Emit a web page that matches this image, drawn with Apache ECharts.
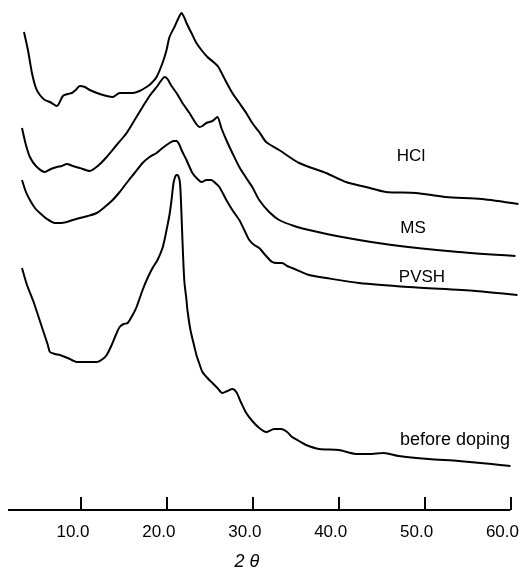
<!DOCTYPE html>
<html>
<head>
<meta charset="utf-8">
<script src="https://cdn.jsdelivr.net/npm/echarts@6/dist/echarts.min.js"></script>
<style>html,body{margin:0;padding:0;background:#fff}#c{width:522px;height:581px}</style>
</head>
<body>
<div id="c"></div>
<script>
// 2θ (degrees) and stacked intensities (arbitrary units, offset traces as drawn)
const hclX = [3.36,3.82,4.29,4.75,5.21,5.79,6.38,7.19,7.88,8.46,8.93,9.39,9.86,10.44,11.02,12.18,12.99,13.69,14.50,15.31,16.01,16.82,17.63,18.22,18.80,19.49,19.96,20.30,20.88,21.35,21.70,22.05,22.28,22.86,23.44,24.02,24.72,25.41,25.99,26.79,27.62,28.43,29.24,29.94,30.75,31.56,33.07,35.39,38.53,40.85,43.17,45.49,48.98,52.46,56.64,60.93];
const hclY = [478,460,437,422,415,410,408,404,414,416,417,420,424,423,420,416,414,413,417,417,417,419,423,427,433,447,460,473,483,492,497,492,487,477,467,460,453,448,443,430,417,407,397,387,378,368,360,347,337,328,323,318,317,313,311,306];

const msX = [3.13,3.59,4.05,4.75,5.79,6.49,7.19,7.77,8.35,9.05,9.86,11.02,11.95,12.99,14.15,15.31,16.24,17.17,17.98,18.80,19.38,19.72,20.07,20.54,21.12,21.81,22.63,23.79,24.14,24.60,25.30,25.88,26.34,26.92,27.62,28.43,29.24,29.94,30.75,31.91,33.07,34.82,36.55,40.39,46.19,53.97,60.58];
const msY = [382,365,353,344,338,341,343,344,346,344,342,339,344,353,365,377,390,403,414,423,430,433,431,424,417,407,397,383,384,387,389,393,382,370,357,343,332,323,310,298,290,284,280,273,265,258,254];

const pvshX = [3.13,3.59,4.05,4.63,5.21,6.03,6.96,7.65,8.35,9.05,9.86,10.79,11.83,12.76,13.69,14.50,15.31,16.24,17.17,17.98,18.80,19.49,20.30,20.77,21.12,21.47,21.70,22.28,22.97,23.56,24.02,24.60,25.18,25.64,26.11,26.92,27.62,28.43,29.01,29.59,30.17,30.75,31.45,32.26,32.84,33.42,34.00,34.58,36.55,38.53,42.36,48.16,55.94,60.82];
const pvshY = [330,318,310,302,297,291,287,287,288,290,292,294,297,303,310,318,327,337,347,353,357,362,367,369,369,365,360,350,337,331,328,330,330,327,323,310,300,290,280,270,265,262,255,248,247,247,244,242,235,232,227,223,219,215];

const befX = [3.13,3.71,4.40,5.10,5.56,6.14,6.38,6.96,7.54,8.46,9.51,10.67,11.83,12.53,12.99,13.57,14.15,14.50,14.97,15.43,16.01,16.47,17.17,17.75,18.33,18.91,19.49,19.72,19.96,20.30,20.54,20.77,21.00,21.12,21.23,21.47,21.58,21.70,21.81,21.93,22.05,22.28,22.39,22.74,23.21,23.44,23.79,24.14,24.72,25.30,25.88,26.46,27.04,27.62,28.08,28.66,29.24,29.94,30.75,31.56,32.49,33.30,34.00,34.58,35.39,36.21,37.72,40.04,42.01,43.52,45.26,47.00,50.48,53.97,57.80,60.00];
const befY = [242,225,210,192,180,165,158,156,155,152,148,148,148,151,155,165,177,183,186,187,195,203,220,232,242,250,262,270,280,295,310,327,334,335,335,330,320,295,270,245,227,210,200,180,163,155,146,138,132,127,122,117,119,121,118,107,97,89,82,78,81,81,78,73,69,65,61,60,56,56,57,54,51,49,46,44];

const tickValues = [10,20,30,40,50,60];
const traceNames = ['HCl','MS','PVSH','before doping'];
const xMin = 1.5, xMax = 61, axisEnd = 60;

const zip = (xs, ys) => xs.map((x, i) => [x, ys[i]]);
const FONT = '"Liberation Sans", Arial, Helvetica, sans-serif';
const lineStyle = { color: '#000', width: 2 };

const chart = echarts.init(document.getElementById('c'), null, { renderer: 'canvas' });
const mk = (name, xs, ys) => ({
  name, type: 'line', data: zip(xs, ys), showSymbol: false, symbol: 'none',
  smooth: 0.25, lineStyle, silent: true, animation: false
});
const series = [
  mk(traceNames[0], hclX, hclY),
  mk(traceNames[1], msX, msY),
  mk(traceNames[2], pvshX, pvshY),
  mk(traceNames[3], befX, befY)
];
series[3].markLine = {
  silent: true, symbol: 'none', animation: false,
  lineStyle: { color: '#000', width: 2, type: 'solid' },
  label: { show: false },
  data: [[{ coord: [xMin, 0] }, { coord: [axisEnd, 0] }]]
};

chart.setOption({
  backgroundColor: '#fff',
  animation: false,
  grid: { left: 8, top: 0, width: 512.6, height: 510 },
  xAxis: {
    type: 'value', min: xMin, max: xMax,
    axisLine: { show: false },
    splitLine: { show: false },
    axisTick: { show: true, inside: true, length: 13, customValues: tickValues,
      lineStyle: { color: '#000', width: 2 } },
    axisLabel: { show: true, customValues: tickValues, margin: 14,
      padding: [0, 16, 0, 0],
      formatter: v => v.toFixed(1), color: '#000', fontSize: 17, fontFamily: FONT }
  },
  yAxis: { type: 'value', min: 0, max: 510, show: false },
  series,
  graphic: [
    { type: 'text', x: 411, y: 156, style: { text: traceNames[0], fill: '#000', font: '17px ' + FONT, textAlign: 'center', textVerticalAlign: 'middle' } },
    { type: 'text', x: 413, y: 228, style: { text: traceNames[1], fill: '#000', font: '17px ' + FONT, textAlign: 'center', textVerticalAlign: 'middle' } },
    { type: 'text', x: 422, y: 277, style: { text: traceNames[2], fill: '#000', font: '17px ' + FONT, textAlign: 'center', textVerticalAlign: 'middle' } },
    { type: 'text', x: 455, y: 440, style: { text: traceNames[3], fill: '#000', font: '18px ' + FONT, textAlign: 'center', textVerticalAlign: 'middle' } },
    { type: 'text', x: 247, y: 562, style: { text: '2 θ', fill: '#000', font: 'italic 18px ' + FONT, textAlign: 'center', textVerticalAlign: 'middle' } }
  ]
});
</script>
</body>
</html>
